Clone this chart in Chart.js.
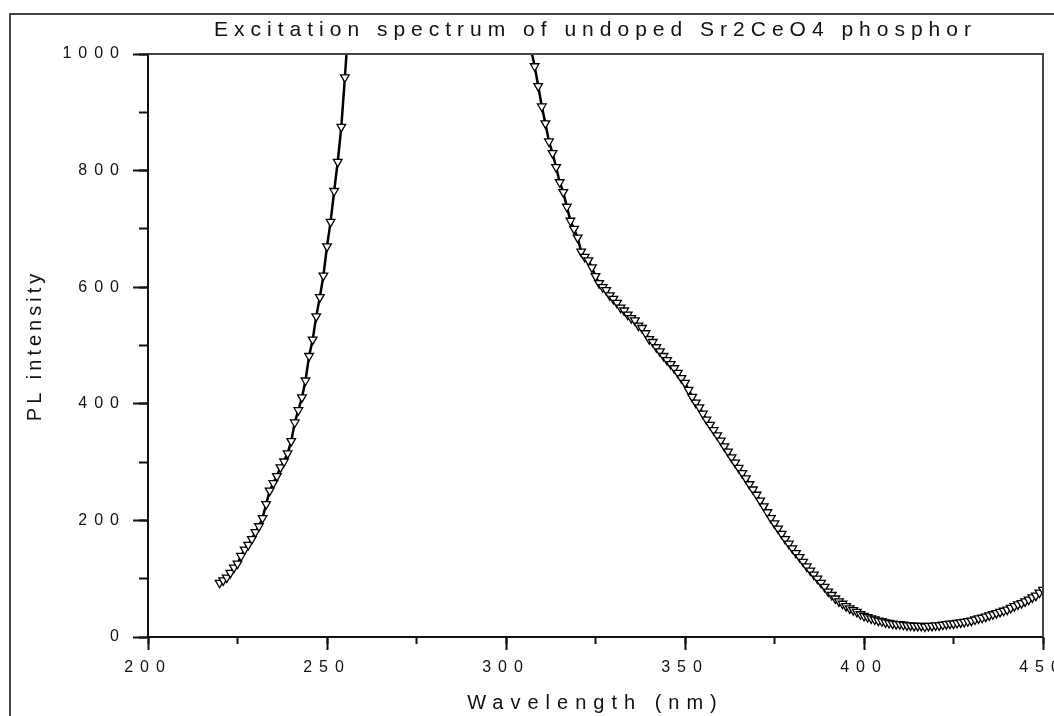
<!DOCTYPE html>
<html lang="en">
<head>
  <meta charset="UTF-8">
  <title>Excitation spectrum of undoped Sr2CeO4 phosphor</title>
  <script src="https://cdn.jsdelivr.net/npm/chart.js"></script>
  <style>
    html, body { margin: 0; padding: 0; background: #fff; }
    #wrap { width: 1054px; height: 716px; }
  </style>
</head>
<body>
  <div id="wrap"><canvas id="spectrum" width="1054" height="716"></canvas></div>

  <script>
    // Wavelength (nm) and PL intensity (values above 1000 run off the top)
    const wavelengths = [
      220, 221, 222, 223, 224, 225, 226, 227, 228, 229, 230, 231, 232, 233, 234, 235, 236, 237, 238, 239,
      240, 241, 242, 243, 244, 245, 246, 247, 248, 249, 250, 251, 252, 253, 254, 255, 256,
      307, 308, 309, 310, 311, 312, 313, 314, 315, 316, 317, 318, 319, 320, 321, 322, 323, 324, 325, 326,
      327, 328, 329, 330, 331, 332, 333, 334, 335, 336, 337, 338, 339, 340, 341, 342, 343, 344, 345, 346,
      347, 348, 349, 350, 351, 352, 353, 354, 355, 356, 357, 358, 359, 360, 361, 362, 363, 364, 365, 366,
      367, 368, 369, 370, 371, 372, 373, 374, 375, 376, 377, 378, 379, 380, 381, 382, 383, 384, 385, 386,
      387, 388, 389, 390, 391, 392, 393, 394, 395, 396, 397, 398, 399, 400, 401, 402, 403, 404, 405, 406,
      407, 408, 409, 410, 411, 412, 413, 414, 415, 416, 417, 418, 419, 420, 421, 422, 423, 424, 425, 426,
      427, 428, 429, 430, 431, 432, 433, 434, 435, 436, 437, 438, 439, 440, 441, 442, 443, 444, 445, 446,
      447, 448, 449, 450
    ];
    const intensities = [
      93, 97, 102, 110, 119, 126, 139, 150, 158, 168, 180, 190, 204, 228, 251, 264, 276, 291, 301, 315,
      336, 368, 389, 411, 440, 482, 510, 550, 583, 620, 670, 712, 765, 815, 875, 960, 1050,
      1008, 979, 945, 910, 881, 850, 830, 806, 780, 763, 738, 714, 700, 685, 661, 652, 646, 634, 619, 607,
      600, 595, 586, 580, 573, 565, 560, 553, 547, 543, 534, 530, 521, 511, 506, 497, 490, 482, 475, 468,
      461, 453, 444, 436, 424, 412, 402, 394, 383, 373, 364, 355, 346, 337, 327, 318, 308, 299, 290, 281,
      272, 262, 253, 244, 234, 224, 214, 204, 195, 186, 177, 168, 160, 152, 144, 137, 129, 121, 114, 107,
      100, 93, 86, 78, 72, 66, 61, 57, 53, 49, 46, 43, 39, 36, 34, 32, 30, 28, 27, 25,
      24, 23, 22, 22, 21, 20, 20, 19, 19, 19, 18, 19, 19, 20, 20, 21, 22, 23, 23, 24,
      25, 26, 27, 28, 30, 32, 33, 35, 37, 39, 41, 43, 45, 47, 50, 53, 56, 58, 61, 64,
      68, 71, 76, 81
    ];

    const xTicks = [200, 250, 300, 350, 400, 450];
    const xMinorTicks = [200, 225, 250, 275, 300, 325, 350, 375, 400, 425, 450];
    const yTicks = [0, 200, 400, 600, 800, 1000];
    const yMinorTicks = [0, 100, 200, 300, 400, 500, 600, 700, 800, 900, 1000];

    const FONT = "'Liberation Sans', Arial, sans-serif";
    const INK = '#111';

    // run a draw function with a different letter spacing
    function spaced(obj, method, spacing) {
      const base = obj[method];
      obj[method] = function (...args) {
        const ctx = this.ctx;
        const prev = ctx.letterSpacing;
        ctx.letterSpacing = spacing;
        base.apply(this, args);
        ctx.letterSpacing = prev;
      };
    }

    // outer frame, the Origin-style wide letter spacing, top/right box lines
    const framePlugin = {
      id: 'frame',
      afterLayout(chart) {
        if (!chart._spacedText) {
          spaced(chart.scales.y, 'drawTitle', '4px');
          spaced(chart.titleBlock, 'draw', '6px');
          chart._spacedText = true;
        }
      },
      beforeDraw(chart) {
        const ctx = chart.ctx;
        ctx.letterSpacing = '7px';
        ctx.save();
        ctx.strokeStyle = '#454545';
        ctx.lineWidth = 2;
        ctx.strokeRect(10, 14, chart.width + 40, chart.height + 40);
        ctx.restore();
      },
      afterDraw(chart) {
        const ctx = chart.ctx;
        const { left, top, right, bottom } = chart.chartArea;
        ctx.save();
        ctx.strokeStyle = '#444';
        ctx.lineWidth = 2;
        ctx.beginPath();
        ctx.moveTo(left, top);
        ctx.lineTo(right, top);
        ctx.lineTo(right, bottom);
        ctx.stroke();
        ctx.restore();
      }
    };

    new Chart(document.getElementById('spectrum'), {
      type: 'line',
      data: {
        datasets: [{
          label: 'Sr2CeO4',
          data: wavelengths.map((w, i) => ({ x: w, y: intensities[i] })),
          xAxisID: 'x',
          yAxisID: 'y',
          borderColor: '#000',
          borderWidth: 2.5,
          tension: 0,
          pointStyle: 'triangle',
          pointRotation: 180,
          pointRadius: 5,
          pointBorderWidth: 1.3,
          pointBorderColor: '#000',
          pointBackgroundColor: '#fff'
        }]
      },
      options: {
        responsive: false,
        animation: false,
        devicePixelRatio: 1,
        layout: { padding: { left: 0, top: 0, right: 11, bottom: 0 } },
        plugins: {
          legend: { display: false },
          tooltip: { enabled: false },
          title: {
            display: true,
            fullSize: false,
            text: 'Excitation spectrum of undoped Sr2CeO4 phosphor',
            color: INK,
            font: { family: FONT, size: 21, weight: 'normal', lineHeight: 1.2 },
            padding: { top: 17.5, bottom: 11.3 }
          }
        },
        scales: {
          x: {
            type: 'linear',
            position: 'bottom',
            weight: 1,
            min: 200,
            max: 450,
            afterBuildTicks: s => { s.ticks = xTicks.map(v => ({ value: v })); },
            afterFit: s => { s.height = 79; s.paddingLeft = 0; s.paddingRight = 0; },
            grid: { drawOnChartArea: false, tickLength: 13, tickWidth: 2, tickColor: '#111' },
            border: { display: true, color: '#111', width: 2 },
            ticks: {
              color: INK,
              font: { family: FONT, size: 16 },
              padding: 8,
              maxRotation: 0,
              autoSkip: false,
              callback: v => String(v)
            },
            title: {
              display: true,
              text: 'Wavelength (nm)',
              color: INK,
              font: { family: FONT, size: 20 },
              padding: { top: 0, bottom: 1 }
            }
          },
          xMinor: {
            type: 'linear',
            axis: 'x',
            position: 'bottom',
            weight: 0,
            min: 200,
            max: 450,
            afterBuildTicks: s => { s.ticks = xMinorTicks.map(v => ({ value: v })); },
            afterFit: s => { s.height = 0; s.paddingLeft = 0; s.paddingRight = 0; },
            grid: { drawOnChartArea: false, tickLength: 7, tickWidth: 2, tickColor: '#111' },
            border: { display: false },
            ticks: { display: false }
          },
          y: {
            type: 'linear',
            position: 'left',
            weight: 1,
            min: 0,
            max: 1000,
            afterBuildTicks: s => { s.ticks = yTicks.map(v => ({ value: v })); },
            afterFit: s => { s.width = 148; s.paddingTop = 0; s.paddingBottom = 0; },
            grid: { drawOnChartArea: false, tickLength: 15, tickWidth: 2, tickColor: '#111' },
            border: { display: true, color: '#111', width: 2 },
            ticks: { color: INK, font: { family: FONT, size: 16 }, padding: 7, callback: v => String(v) },
            title: {
              display: true,
              text: 'PL intensity',
              color: INK,
              font: { family: FONT, size: 20 },
              padding: { top: 23, bottom: 0 }
            }
          },
          yMinor: {
            type: 'linear',
            axis: 'y',
            position: 'left',
            weight: 0,
            min: 0,
            max: 1000,
            afterBuildTicks: s => { s.ticks = yMinorTicks.map(v => ({ value: v })); },
            afterFit: s => { s.width = 0; s.paddingTop = 0; s.paddingBottom = 0; },
            grid: { drawOnChartArea: false, tickLength: 9, tickWidth: 2, tickColor: '#111' },
            border: { display: false },
            ticks: { display: false }
          }
        }
      },
      plugins: [framePlugin]
    });
  </script>
</body>
</html>
